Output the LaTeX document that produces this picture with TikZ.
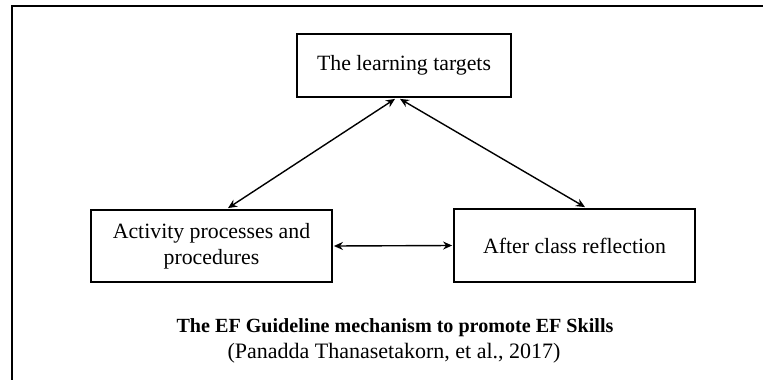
\documentclass[tikz,border=0pt]{standalone}
\usepackage{fontspec}
\setmainfont{Liberation Serif}
\usetikzlibrary{arrows.meta}
\begin{document}
\begin{tikzpicture}[x=1pt,y=-1pt,
  boxnode/.style={draw=black, line width=1.8pt, rectangle, align=center,
    font=\fontsize{21.8}{26}\selectfont, inner sep=0pt},
  link/.style={line width=1.4pt, {Stealth[length=9pt,width=8pt]}-{Stealth[length=9pt,width=8pt]}},
  frameline/.style={line width=2pt, draw=black}
]
\useasboundingbox (0,0) rectangle (763,380);
\draw[frameline] (12,380) -- (12,6) -- (763,6);
\node[boxnode, minimum width=214pt, minimum height=63pt] (top) at (404,65.5) {The learning targets};
\node[boxnode, minimum width=241pt, minimum height=72pt] (left) at (211.5,246) {Activity processes and\\procedures};
\node[boxnode, minimum width=241pt, minimum height=73pt] (right) at (574.5,245.5) {After class reflection};
\draw[link] ([xshift=-9pt,yshift=-1pt]top.south) -- ([xshift=16.5pt,yshift=1pt]left.north);
\draw[link] ([xshift=-4pt,yshift=-1pt]top.south) -- ([xshift=10.5pt,yshift=1pt]right.north);
\draw[link] ([xshift=1pt]left.east) -- ([xshift=-1pt]right.west);
\node[font=\fontsize{20.1}{22}\selectfont\bfseries, inner sep=0pt] (cap) at (395,328) {The EF Guideline mechanism to promote EF Skills};
\node[font=\fontsize{22}{24}\selectfont, inner sep=0pt] (cite) at (394,353) {(Panadda Thanasetakorn, et al., 2017)};
\end{tikzpicture}
\end{document}
